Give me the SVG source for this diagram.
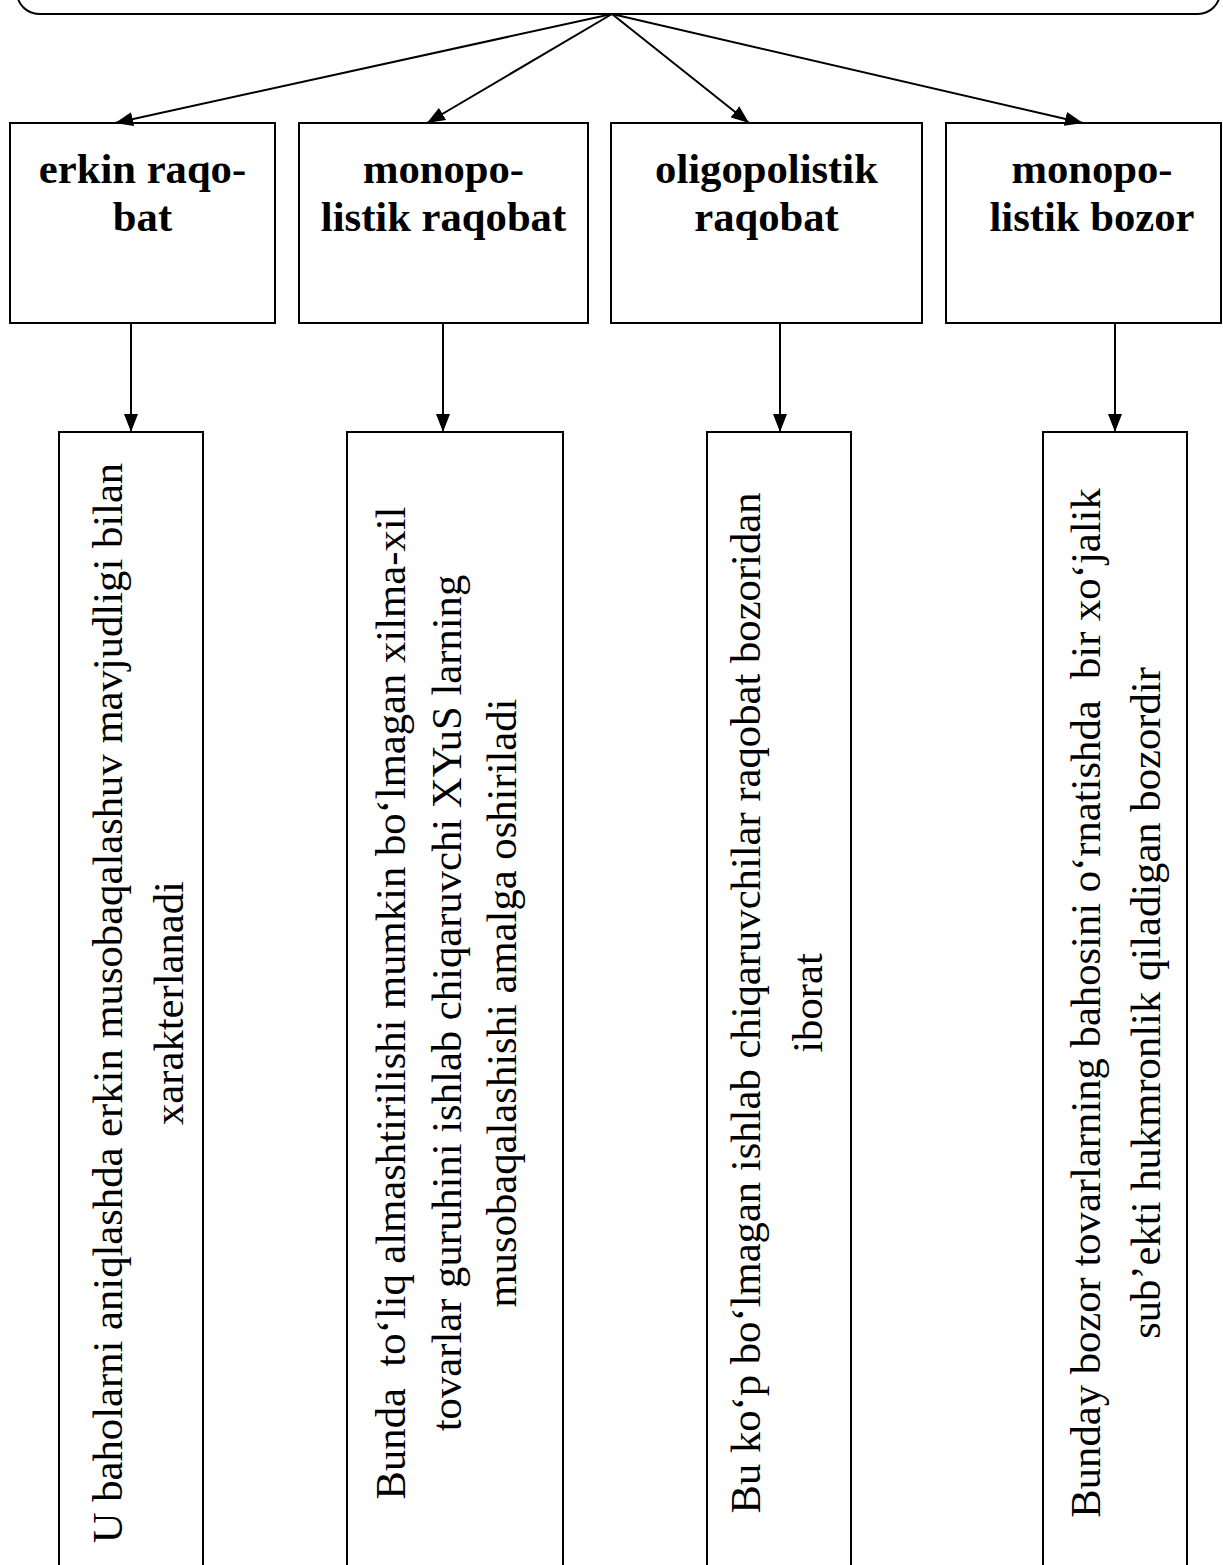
<svg xmlns="http://www.w3.org/2000/svg" width="1223" height="1565" viewBox="0 0 1223 1565">
<style>
.box{fill:#fff;stroke:#000;stroke-width:2}
.conn{stroke:#000;stroke-width:2;fill:none}
.title{font-family:"Liberation Serif","Times New Roman",serif;font-weight:bold;font-size:42.67px;text-anchor:middle;fill:#000}
.body{font-family:"Liberation Serif","Times New Roman",serif;font-size:42.67px;text-anchor:middle;fill:#000}
</style>
<defs>
<marker id="ah" viewBox="0 0 18 14" refX="18" refY="7" markerWidth="18" markerHeight="14" markerUnits="userSpaceOnUse" orient="auto">
<path d="M0,0 L18,7 L0,14 z" fill="#000"/>
</marker>
</defs>
<rect width="1223" height="1565" fill="#fff"/>
<g id="root">
<rect class="box" x="17" y="-60" width="1203" height="74" rx="22" ry="22"/>
</g>
<g id="n1">
<rect class="box" x="10" y="123" width="265" height="200"/>
<text class="title" x="142.5" y="183">erkin raqo-</text>
<text class="title" x="142.5" y="231">bat</text>
</g>
<g id="n2">
<rect class="box" x="299" y="123" width="289" height="200"/>
<text class="title" x="443.5" y="183">monopo-</text>
<text class="title" x="443.5" y="231">listik raqobat</text>
</g>
<g id="n3">
<rect class="box" x="611" y="123" width="311" height="200"/>
<text class="title" x="766.5" y="183">oligopolistik</text>
<text class="title" x="766.5" y="231">raqobat</text>
</g>
<g id="n4">
<rect class="box" x="946" y="123" width="275" height="200"/>
<text class="title" x="1092" y="183">monopo-</text>
<text class="title" x="1092" y="231">listik bozor</text>
</g>
<g id="d1">
<rect class="box" x="59" y="432" width="144" height="1170"/>
<g transform="translate(122,1003) rotate(-90)">
<text class="body" x="0" y="0">U baholarni aniqlashda erkin musobaqalashuv mavjudligi bilan</text>
<text class="body" x="0" y="61">xarakterlanadi</text>
</g>
</g>
<g id="d2">
<rect class="box" x="347" y="432" width="216" height="1170"/>
<g transform="translate(405,1003) rotate(-90)">
<text class="body" x="0" y="0" xml:space="preserve">Bunda  to‘liq almashtirilishi mumkin bo‘lmagan xilma-xil</text>
<text class="body" x="0" y="56">tovarlar guruhini ishlab chiqaruvchi XYuS larning</text>
<text class="body" x="0" y="111">musobaqalashishi amalga oshiriladi</text>
</g>
</g>
<g id="d3">
<rect class="box" x="707" y="432" width="144" height="1170"/>
<g transform="translate(760,1003) rotate(-90)">
<text class="body" x="0" y="0">Bu ko‘p bo‘lmagan ishlab chiqaruvchilar raqobat bozoridan</text>
<text class="body" x="0" y="62">iborat</text>
</g>
</g>
<g id="d4">
<rect class="box" x="1043" y="432" width="144" height="1170"/>
<g transform="translate(1100,1003) rotate(-90)">
<text class="body" x="0" y="0" xml:space="preserve">Bunday bozor tovarlarning bahosini o‘rnatishda  bir xo‘jalik</text>
<text class="body" x="0" y="60">sub’ekti hukmronlik qiladigan bozordir</text>
</g>
</g>
<g id="connectors">
<line class="conn" x1="612" y1="14" x2="115" y2="123" marker-end="url(#ah)"/>
<line class="conn" x1="612" y1="14" x2="427" y2="123" marker-end="url(#ah)"/>
<line class="conn" x1="612" y1="14" x2="749" y2="123" marker-end="url(#ah)"/>
<line class="conn" x1="612" y1="14" x2="1083" y2="123" marker-end="url(#ah)"/>
<line class="conn" x1="131" y1="323" x2="131" y2="432" marker-end="url(#ah)"/>
<line class="conn" x1="443" y1="323" x2="443" y2="432" marker-end="url(#ah)"/>
<line class="conn" x1="780" y1="323" x2="780" y2="432" marker-end="url(#ah)"/>
<line class="conn" x1="1115" y1="323" x2="1115" y2="432" marker-end="url(#ah)"/>
</g>
</svg>
